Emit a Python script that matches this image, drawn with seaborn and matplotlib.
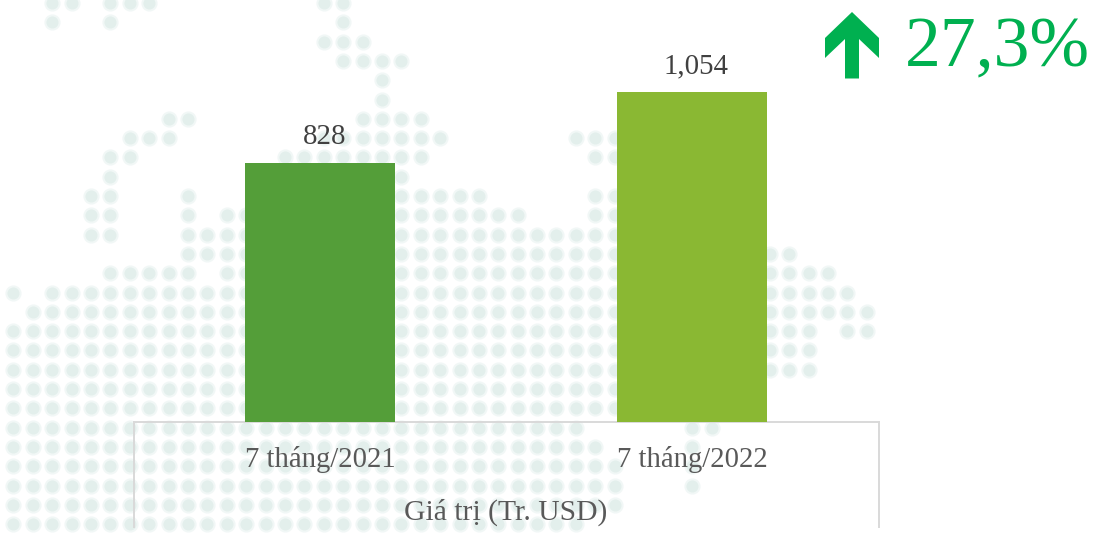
import matplotlib
matplotlib.use('Agg')
import matplotlib.pyplot as plt
import pandas as pd
import seaborn as sns
from matplotlib.patches import Polygon

# Chart values
periods = ['7 tháng/2021', '7 tháng/2022']
values = [828, 1054]
bar_colors = ['#549E39', '#8AB833']
axis_title = 'Giá trị (Tr. USD)'
change_label = '27,3%'

# Background dot map: for each row, the runs of columns that hold a dot
map_rows = [
    [(2, 3), (5, 7), (16, 17)],
    [(2, 2), (5, 5), (17, 17)],
    [(16, 18)],
    [(17, 20)],
    [(19, 19)],
    [(19, 19)],
    [(8, 9), (18, 21)],
    [(6, 8), (16, 22), (29, 31)],
    [(5, 6), (14, 21), (30, 31)],
    [(5, 5), (14, 20)],
    [(4, 5), (9, 9), (14, 24), (30, 31)],
    [(4, 5), (9, 9), (11, 26), (30, 31)],
    [(4, 5), (9, 31)],
    [(9, 31), (32, 40)],
    [(5, 9), (11, 31), (32, 42)],
    [(0, 0), (2, 43)],
    [(1, 44)],
    [(0, 41), (43, 44)],
    [(0, 41)],
    [(0, 41)],
    [(0, 36)],
    [(0, 36)],
    [(0, 29), (35, 36)],
    [(0, 30), (35, 35)],
    [(0, 31), (35, 35)],
    [(0, 31), (35, 35)],
    [(0, 31)],
    [(0, 29)],
]

plt.rcParams['font.family'] = ['Liberation Serif', 'DejaVu Serif']

W, H = 1102, 533
fig = plt.figure(figsize=(W / 100, H / 100), dpi=100, facecolor='white')

# Full figure layer in pixel coordinates for the decoration
bg = fig.add_axes([0, 0, 1, 1], zorder=0)
bg.axis('off')

dots = pd.DataFrame(
    [(col, row) for row, runs in enumerate(map_rows)
     for start, end in runs for col in range(start, end + 1)],
    columns=['col', 'row'],
)
dots['x'] = 13.3 + 19.4 * dots['col']
dots['y'] = 3.0 + 19.3 * dots['row']
sns.scatterplot(data=dots, x='x', y='y', ax=bg, s=135, color='#F1F7F6', linewidth=0, legend=False)
sns.scatterplot(data=dots, x='x', y='y', ax=bg, s=75, color='#E3EFEC', linewidth=0, legend=False)
bg.set_xlim(0, W)
bg.set_ylim(H, 0)

# Frame of the data table under the bars
frame = fig.add_axes([134 / W, (H - 527) / H, 745 / W, 105 / H], zorder=1)
frame.patch.set_alpha(0)
frame.set_xticks([])
frame.set_yticks([])
frame.spines['bottom'].set_visible(False)
for side in ['top', 'left', 'right']:
    frame.spines[side].set_color('#D9D9D9')
    frame.spines[side].set_linewidth(1.4)

# Bars
ax = fig.add_axes([134 / W, (H - 421.5) / H, 744 / W, 421.5 / H], zorder=2)
ax.patch.set_alpha(0)
df = pd.DataFrame({'period': periods, 'value': values})
sns.barplot(data=df, x='period', y='value', hue='period', palette=bar_colors,
            width=0.403, saturation=1, legend=False, ax=ax)
ax.set_xlim(-0.5, 1.5)
ax.set_ylim(0, 1349)
for c in ax.containers:
    for t in ax.bar_label(c, fmt='{:,.0f}', padding=9, fontsize=20.8, color='#404040'):
        # the data labels sit a little right of the bar centre
        t.xyann = (3.2, 9)
ax.set_yticks([])
ax.set_ylabel('')
ax.tick_params(axis='x', length=0, pad=17.5, labelsize=20.6, labelcolor='#595959')
ax.set_xlabel(axis_title, fontsize=21.3, color='#595959', labelpad=18.3)
sns.despine(ax=ax, left=True, bottom=True)

# Change marker, top right
overlay = fig.add_axes([0, 0, 1, 1], zorder=3)
overlay.set_xlim(0, W)
overlay.set_ylim(H, 0)
overlay.axis('off')
overlay.add_patch(Polygon(
    [(852, 12), (879, 38), (879, 58), (859, 39), (859, 78.5), (845, 78.5), (845, 39), (825, 58), (825, 38)],
    closed=True, facecolor='#00B050', edgecolor='none'))
overlay.text(905, 66, change_label, fontsize=51.6, color='#00B050', ha='left', va='baseline')

fig.savefig('out.png', dpi=100)
